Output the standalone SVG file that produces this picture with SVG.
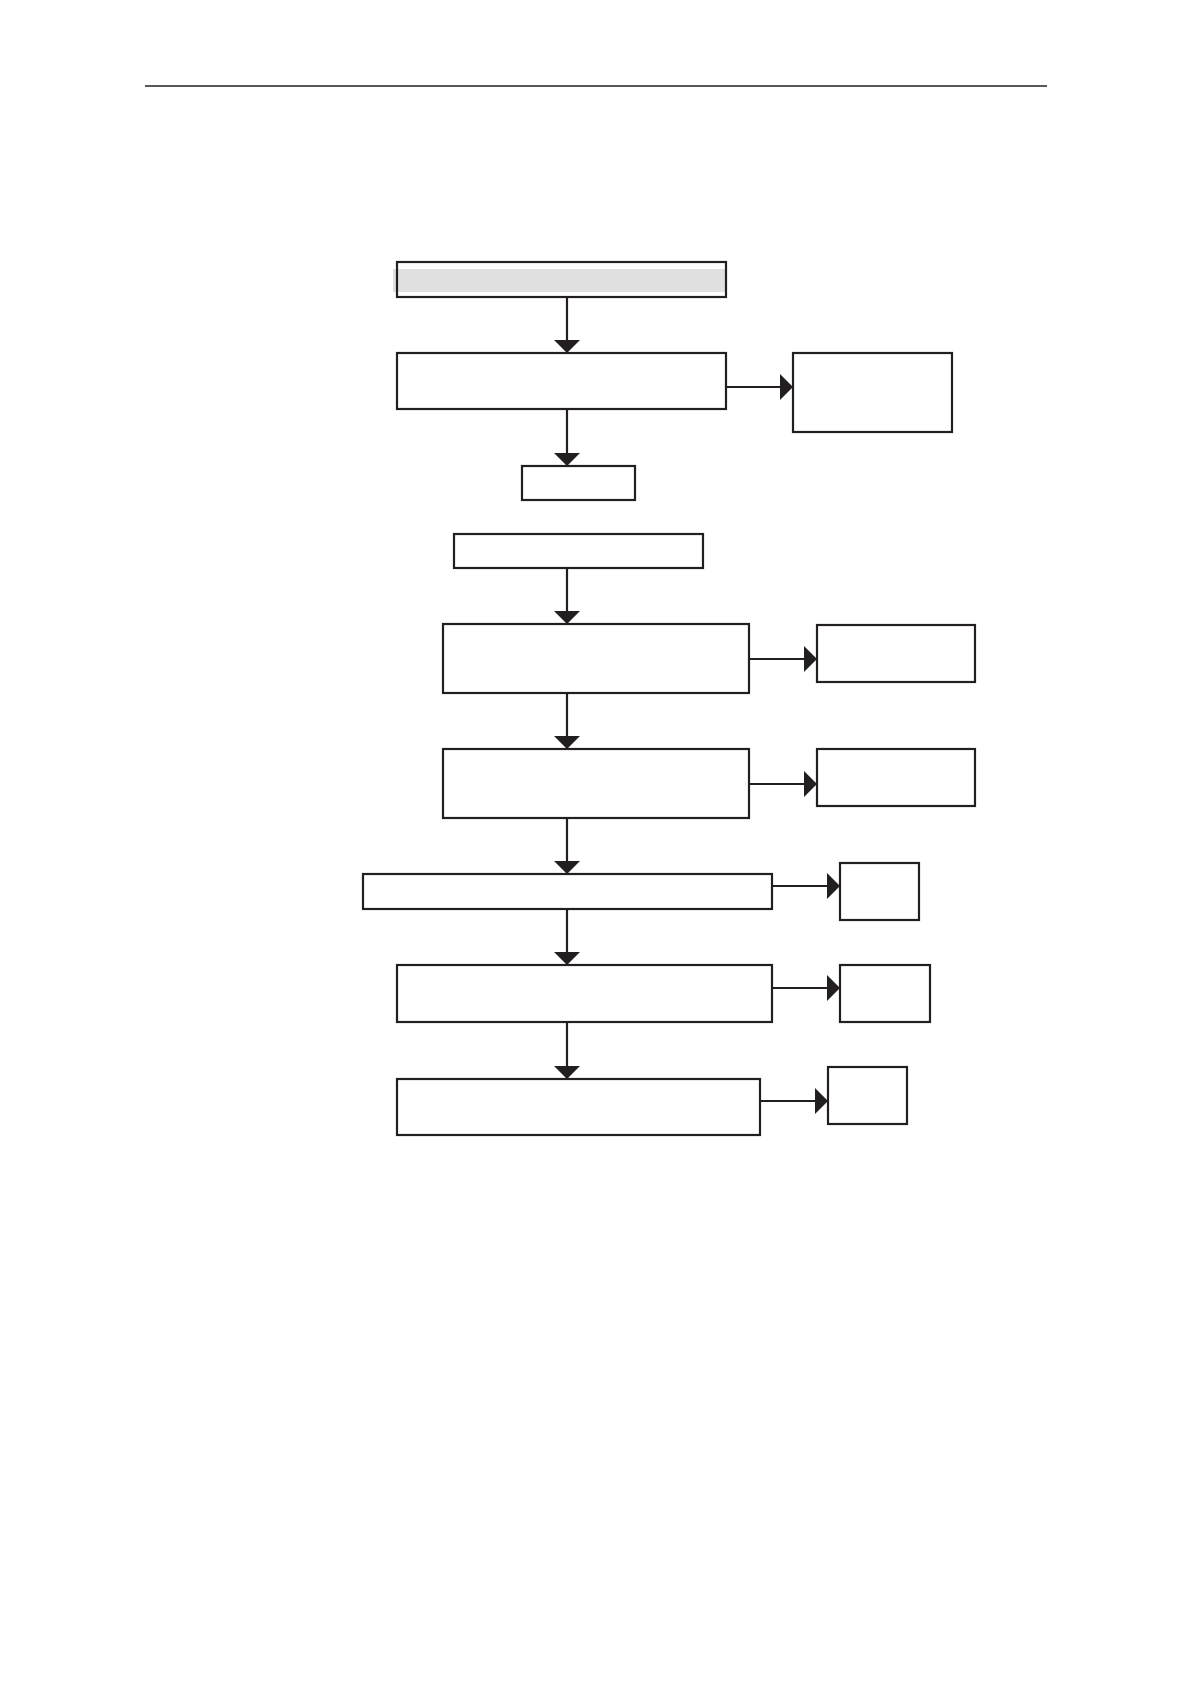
<svg xmlns="http://www.w3.org/2000/svg" width="1191" height="1685" viewBox="0 0 1191 1685">
<style>
.box{fill:none;stroke:#231f20;stroke-width:2.2}
.ln{fill:none;stroke:#231f20;stroke-width:2.2}
</style>
<defs>
<marker id="ah" viewBox="0 -13 13 26" markerWidth="13" markerHeight="26" refX="13" refY="0" orient="auto" markerUnits="userSpaceOnUse">
<path d="M0,-13 L13,0 L0,13 z" fill="#231f20"/>
</marker>
</defs>
<rect x="0" y="0" width="1191" height="1685" fill="#ffffff"/>
<line x1="145" y1="86" x2="1047" y2="86" stroke="#231f20" stroke-width="1.5"/>
<g id="connectors">
<line class="ln" x1="567" y1="297" x2="567" y2="353" marker-end="url(#ah)"/>
<line class="ln" x1="726" y1="387" x2="793" y2="387" marker-end="url(#ah)"/>
<line class="ln" x1="567" y1="409" x2="567" y2="466" marker-end="url(#ah)"/>
<line class="ln" x1="567" y1="568" x2="567" y2="624" marker-end="url(#ah)"/>
<line class="ln" x1="749" y1="659" x2="817" y2="659" marker-end="url(#ah)"/>
<line class="ln" x1="567" y1="693" x2="567" y2="749" marker-end="url(#ah)"/>
<line class="ln" x1="749" y1="784" x2="817" y2="784" marker-end="url(#ah)"/>
<line class="ln" x1="567" y1="818" x2="567" y2="874" marker-end="url(#ah)"/>
<line class="ln" x1="772" y1="886" x2="840" y2="886" marker-end="url(#ah)"/>
<line class="ln" x1="567" y1="909" x2="567" y2="965" marker-end="url(#ah)"/>
<line class="ln" x1="772" y1="988" x2="840" y2="988" marker-end="url(#ah)"/>
<line class="ln" x1="567" y1="1022" x2="567" y2="1079" marker-end="url(#ah)"/>
<line class="ln" x1="760" y1="1101" x2="828" y2="1101" marker-end="url(#ah)"/>
</g>
<g id="n1"><rect x="393" y="269" width="333" height="23" fill="#e0e0e0"/><rect class="box" x="397" y="262" width="329" height="35"/></g>
<g id="n2"><rect class="box" x="397" y="353" width="329" height="56"/></g>
<g id="n3"><rect class="box" x="793" y="353" width="159" height="79"/></g>
<g id="n4"><rect class="box" x="522" y="466" width="113" height="34"/></g>
<g id="n5"><rect class="box" x="454" y="534" width="249" height="34"/></g>
<g id="n6"><rect class="box" x="443" y="624" width="306" height="69"/></g>
<g id="n7"><rect class="box" x="817" y="625" width="158" height="57"/></g>
<g id="n8"><rect class="box" x="443" y="749" width="306" height="69"/></g>
<g id="n9"><rect class="box" x="817" y="749" width="158" height="57"/></g>
<g id="n10"><rect class="box" x="363" y="874" width="409" height="35"/></g>
<g id="n11"><rect class="box" x="840" y="863" width="79" height="57"/></g>
<g id="n12"><rect class="box" x="397" y="965" width="375" height="57"/></g>
<g id="n13"><rect class="box" x="840" y="965" width="90" height="57"/></g>
<g id="n14"><rect class="box" x="397" y="1079" width="363" height="56"/></g>
<g id="n15"><rect class="box" x="828" y="1067" width="79" height="57"/></g>
</svg>
